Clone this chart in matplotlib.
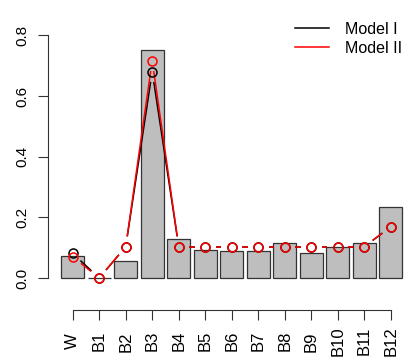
import numpy as np
import matplotlib
matplotlib.use('Agg')
import matplotlib.pyplot as plt

categories = ['W', 'B1', 'B2', 'B3', 'B4', 'B5', 'B6', 'B7', 'B8', 'B9', 'B10', 'B11', 'B12']
bar_values = [0.073, 0.0, 0.056, 0.752, 0.128, 0.092, 0.090, 0.090, 0.114, 0.081, 0.103, 0.116, 0.233]
model1 = [0.081, 0.0, 0.103, 0.681, 0.103, 0.103, 0.103, 0.103, 0.103, 0.103, 0.103, 0.103, 0.169]
model2 = [0.070, 0.0, 0.103, 0.717, 0.103, 0.103, 0.103, 0.103, 0.103, 0.103, 0.103, 0.103, 0.169]
yticks = [0.0, 0.2, 0.4, 0.6, 0.8]
ytick_labels = ['0.0', '0.2', '0.4', '0.6', '0.8']
series_names = ['Model I', 'Model II']
series_colors = ['black', '#FF0000']

plt.rcParams['font.family'] = ['Liberation Sans', 'DejaVu Sans']
plt.rcParams['font.size'] = 11.5

W, H = 408, 360
fig = plt.figure(figsize=(W / 100, H / 100), dpi=100)
ax = fig.add_axes([48 / W, (H - 290) / H, 360 / W, 280 / H])

x = np.arange(len(categories))
ax.bar(x, bar_values, width=0.857, color='#BEBEBE', edgecolor='#333333', linewidth=0.9, zorder=1)

ax.set_xlim(-0.932, 12.65)
ax.set_ylim(-0.0396, 0.884)

def draw_b(xs, ys, color, gap=10.5, label=None):
    pts = ax.transData.transform(np.column_stack([xs, ys]))
    inv = ax.transData.inverted()
    for i in range(len(pts) - 1):
        p0, p1 = pts[i], pts[i + 1]
        d = p1 - p0
        L = np.hypot(*d)
        if L > 2 * gap:
            u = d / L
            seg = inv.transform(np.array([p0 + u * gap, p1 - u * gap]))
            ax.plot(seg[:, 0], seg[:, 1], color=color, lw=1.1, zorder=3, clip_on=False,
                    solid_capstyle='butt')
    ax.plot(xs, ys, 'o', mfc='none', mec=color, ms=6.5, mew=1.1, zorder=4, clip_on=False)
    ax.plot([], [], color=color, lw=1.1, label=label)

draw_b(x, model1, series_colors[0], label=series_names[0])
draw_b(x, model2, series_colors[1], label=series_names[1])

for s in ['top', 'right']:
    ax.spines[s].set_visible(False)
ax.spines['left'].set_bounds(0, 0.8)
ax.spines['bottom'].set_bounds(0, 12)
ax.spines['bottom'].set_position(('outward', 14.4))
for s in ['left', 'bottom']:
    ax.spines[s].set_color('#333333')
    ax.spines[s].set_linewidth(0.8)

ax.set_xticks(x)
ax.set_xticklabels(categories, rotation=90, va='center', ha='center', fontsize=12)
ax.set_yticks(yticks)
ax.set_yticklabels(ytick_labels, rotation=90, va='center', fontsize=11)
ax.tick_params(axis='both', length=7.5, width=0.8, color='#333333')
ax.tick_params(axis='x', pad=15)
ax.tick_params(axis='y', pad=6)

ax.legend(loc='upper left', bbox_to_anchor=(295 / W, (H - 22) / H), bbox_transform=fig.transFigure,
          frameon=False, borderpad=0, handlelength=2.1, handletextpad=1.0, labelspacing=0.25,
          fontsize=11.5, borderaxespad=0)

fig.savefig('out.png', dpi=100)
